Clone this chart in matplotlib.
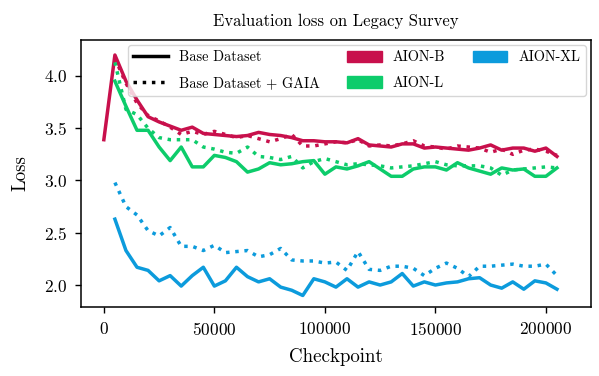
import matplotlib
matplotlib.use('Agg')
import matplotlib.pyplot as plt
from matplotlib.lines import Line2D
from matplotlib.patches import Patch

# checkpoints (first one only used by the AION-B base run)
ckpt = [5000, 10000, 15000, 20000, 25000, 30000, 35000, 40000, 45000, 50000,
        55000, 60000, 65000, 70000, 75000, 80000, 85000, 90000, 95000, 100000,
        105000, 110000, 115000, 120000, 125000, 130000, 135000, 140000, 145000, 150000,
        155000, 160000, 165000, 170000, 175000, 180000, 185000, 190000, 195000, 200000,
        205000]
ckpt_b = [0] + ckpt

b_base = [3.39, 4.20, 3.95, 3.77, 3.61, 3.56, 3.52, 3.48, 3.51, 3.45, 3.44, 3.43, 3.42, 3.43,
          3.46, 3.44, 3.43, 3.41, 3.38, 3.38, 3.37, 3.37, 3.36, 3.40, 3.34, 3.33, 3.32, 3.35,
          3.35, 3.31, 3.32, 3.31, 3.30, 3.29, 3.31, 3.34, 3.29, 3.31, 3.31, 3.28, 3.31, 3.23]
b_gaia = [4.17, 3.93, 3.74, 3.62, 3.57, 3.51, 3.44, 3.47, 3.44, 3.47, 3.44, 3.41, 3.43, 3.40,
          3.37, 3.40, 3.44, 3.33, 3.33, 3.35, 3.37, 3.36, 3.39, 3.33, 3.34, 3.33, 3.35, 3.38,
          3.33, 3.32, 3.30, 3.33, 3.32, 3.31, 3.27, 3.30, 3.25, 3.29, 3.30, 3.28, 3.24]
l_base = [3.95, 3.71, 3.48, 3.48, 3.32, 3.19, 3.32, 3.13, 3.13, 3.24, 3.22, 3.18, 3.08, 3.11,
          3.17, 3.15, 3.16, 3.18, 3.19, 3.06, 3.13, 3.11, 3.14, 3.18, 3.11, 3.04, 3.04, 3.11,
          3.13, 3.13, 3.10, 3.17, 3.12, 3.09, 3.06, 3.12, 3.10, 3.11, 3.04, 3.04, 3.12]
l_gaia = [4.13, 3.68, 3.63, 3.50, 3.41, 3.39, 3.39, 3.39, 3.32, 3.30, 3.27, 3.26, 3.32, 3.23,
          3.22, 3.20, 3.23, 3.12, 3.18, 3.21, 3.18, 3.15, 3.16, 3.15, 3.14, 3.12, 3.13, 3.14,
          3.16, 3.18, 3.15, 3.14, 3.14, 3.14, 3.12, 3.05, 3.10, 3.11, 3.12, 3.13, 3.12]
xl_base = [2.63, 2.33, 2.17, 2.14, 2.04, 2.09, 1.99, 2.09, 2.17, 1.99, 2.04, 2.17, 2.08, 2.03,
           2.06, 1.98, 1.95, 1.90, 2.06, 2.03, 1.98, 2.06, 1.98, 2.03, 2.00, 2.03, 2.11, 1.99,
           2.03, 2.00, 2.02, 2.03, 2.06, 2.07, 2.00, 1.97, 2.03, 1.96, 2.04, 2.02, 1.96]
xl_gaia = [2.98, 2.75, 2.67, 2.52, 2.47, 2.55, 2.37, 2.37, 2.33, 2.38, 2.31, 2.32, 2.33, 2.27,
           2.29, 2.35, 2.24, 2.23, 2.23, 2.21, 2.22, 2.14, 2.32, 2.15, 2.14, 2.18, 2.18, 2.16,
           2.09, 2.16, 2.21, 2.16, 2.08, 2.18, 2.18, 2.19, 2.20, 2.18, 2.18, 2.20, 2.09]

models = ['AION-B', 'AION-L', 'AION-XL']
colors = {'AION-B': '#C8104C', 'AION-L': '#0DCC6B', 'AION-XL': '#0C9BDC'}

plt.rcParams['font.family'] = 'cmr10'
plt.rcParams['axes.formatter.use_mathtext'] = True

lw = 2.5
fig = plt.figure(figsize=(5.99, 3.76), dpi=100)
ax = fig.add_axes([0.135, 0.183, 0.852, 0.711])

ax.plot(ckpt_b, b_base, color=colors['AION-B'], lw=lw)
ax.plot(ckpt, b_gaia, color=colors['AION-B'], lw=lw, ls=':')
ax.plot(ckpt, l_base, color=colors['AION-L'], lw=lw)
ax.plot(ckpt, l_gaia, color=colors['AION-L'], lw=lw, ls=':')
ax.plot(ckpt, xl_base, color=colors['AION-XL'], lw=lw)
ax.plot(ckpt, xl_gaia, color=colors['AION-XL'], lw=lw, ls=':')

ax.set_xlim(-10400, 220500)
ax.set_ylim(1.788, 4.345)
ax.set_yticks([2.0, 2.5, 3.0, 3.5, 4.0])
ax.set_xticks([0, 50000, 100000, 150000, 200000])
ax.tick_params(labelsize=12.5, length=4, width=1, pad=6)
for s in ax.spines.values():
  s.set_linewidth(1.1)

ax.set_title('Evaluation loss on Legacy Survey', fontsize=12, pad=10)
ax.set_xlabel('Checkpoint', fontsize=13.6, labelpad=7)
ax.set_ylabel('Loss', fontsize=13.6, labelpad=10)

handles = [Line2D([], [], color='black', lw=lw),
           Line2D([], [], color='black', lw=lw, ls=':')]
labels = ['Base Dataset', 'Base Dataset + GAIA']
for m in models:
  handles.append(Patch(color=colors[m]))
  labels.append(m)
ax.legend(handles, labels, ncol=3, loc='upper right', fontsize=10.3,
          handlelength=2.4, handleheight=0.86, columnspacing=1.9,
          labelspacing=0.85, borderaxespad=0.35)

fig.savefig('out.png', dpi=100)
